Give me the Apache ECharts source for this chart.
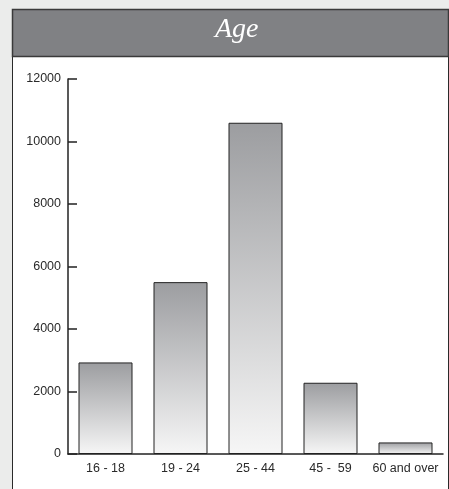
<!DOCTYPE html>
<html>
<head>
<meta charset="utf-8">
<script src="https://cdn.jsdelivr.net/npm/echarts@6/dist/echarts.min.js"></script>
<style>
  html, body { margin: 0; padding: 0; background: #ebeceb; }
  #chart { width: 449px; height: 489px; }
</style>
</head>
<body>
<div id="chart"></div>
<script>
// Age groups and respondent counts
const categories = ['16 - 18', '19 - 24', '25 - 44', '45 -  59', '60 and over'];
const counts = [2930, 5500, 10600, 2280, 370];
const yTicks = { min: 0, max: 12000, interval: 2000 };
const titleText = 'Age';

const chart = echarts.init(document.getElementById('chart'), null, { renderer: 'canvas' });

const barFill = new echarts.graphic.LinearGradient(0, 0, 0, 1, [
  { offset: 0, color: '#9c9da0' },
  { offset: 1, color: '#f6f6f6' }
]);

const labelFont = '"Liberation Sans", Arial, sans-serif';

chart.setOption({
  backgroundColor: '#ebeceb',
  animation: false,
  graphic: [
    // white panel
    { type: 'rect', z: -10, shape: { x: 12.5, y: 9.5, width: 436, height: 490 },
      style: { fill: '#ffffff', stroke: '#2a2a2a', lineWidth: 1 } },
    // header band
    { type: 'rect', z: -9, shape: { x: 12.5, y: 9.5, width: 436, height: 47 },
      style: { fill: '#808184', stroke: '#3a3a3a', lineWidth: 1.5 } },
    { type: 'text', z: -8, left: 215, top: 16,
      style: { text: titleText, fill: '#ffffff', font: 'italic 28px "Liberation Serif", "DejaVu Serif", serif' } }
  ],
  grid: { left: 68, right: 6, top: 79, bottom: 35 },
  xAxis: {
    type: 'category',
    data: categories,
    boundaryGap: true,
    axisLine: { lineStyle: { color: '#222', width: 1.5 } },
    axisTick: { inside: true, length: 8, lineStyle: { color: '#222', width: 1.5 } },
    axisLabel: { interval: 0, color: '#2a2a2a', fontSize: 12.5, fontFamily: labelFont, margin: 8 }
  },
  yAxis: {
    type: 'value',
    min: yTicks.min, max: yTicks.max, interval: yTicks.interval,
    splitLine: { show: false },
    axisLine: { show: true, lineStyle: { color: '#222', width: 1.5 } },
    axisTick: { show: true, inside: true, length: 9, lineStyle: { color: '#222', width: 1.5 } },
    axisLabel: { color: '#2a2a2a', fontSize: 12.5, fontFamily: labelFont, margin: 7,
      formatter: v => String(v) }
  },
  series: [{
    type: 'bar',
    data: counts,
    barWidth: 54,
    itemStyle: { color: barFill, borderColor: '#222', borderWidth: 1 }
  }]
});
</script>
</body>
</html>
